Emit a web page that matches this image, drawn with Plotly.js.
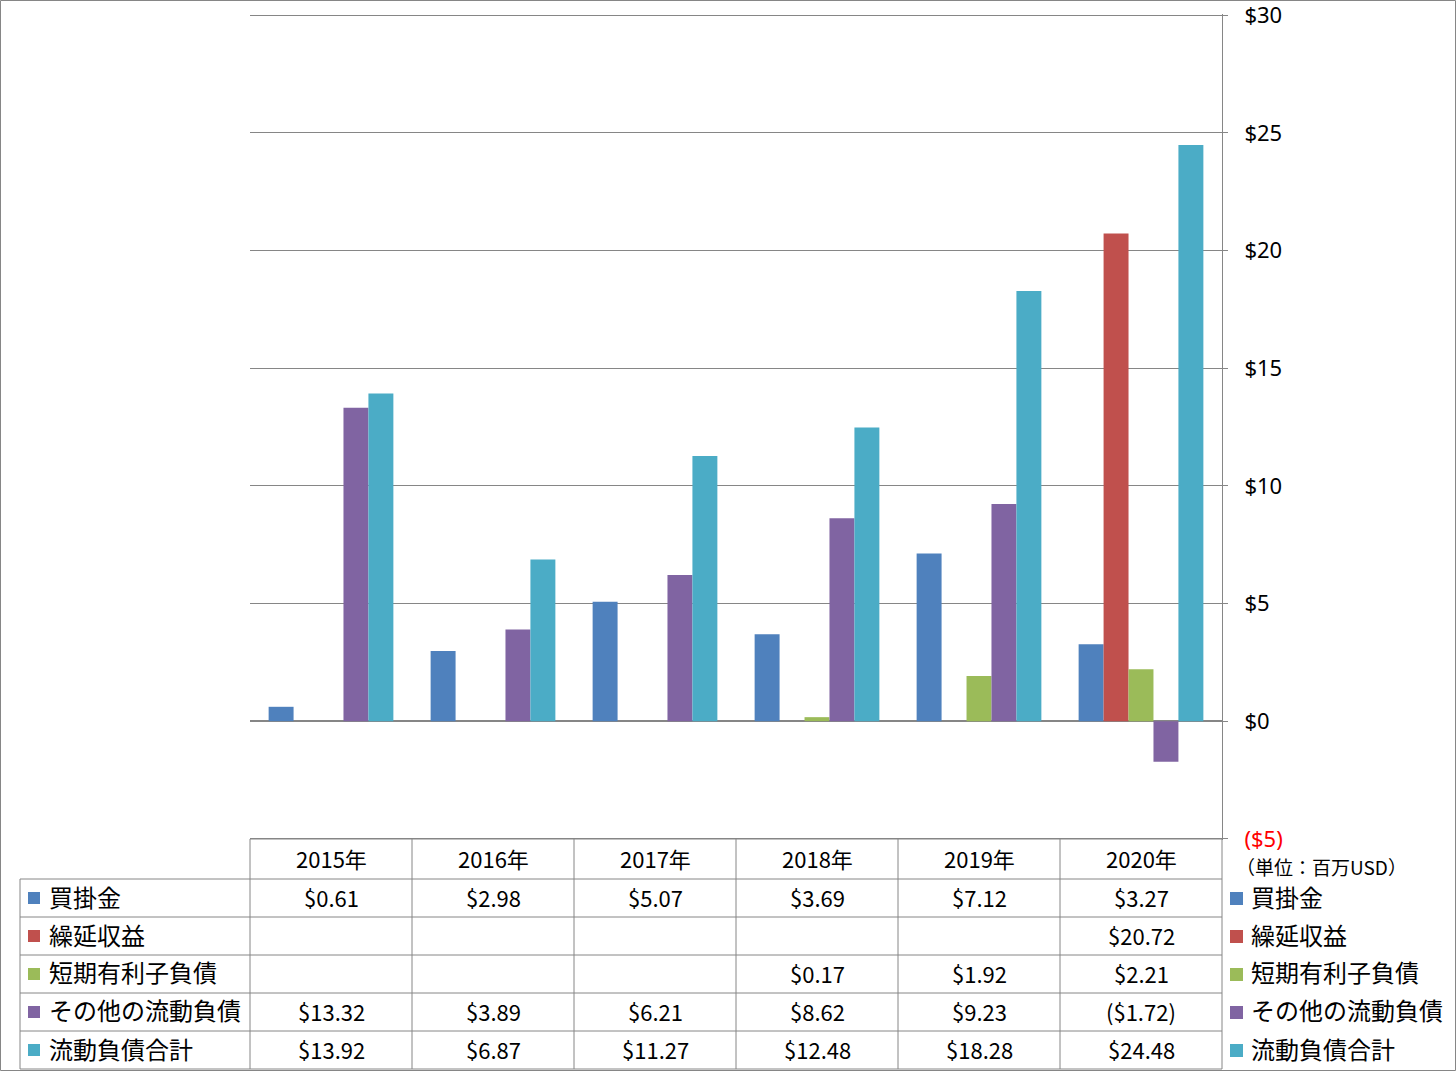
<!DOCTYPE html>
<html>
<head>
<meta charset="utf-8">
<script src="https://cdn.plot.ly/plotly-3.0.1.min.js"></script>
<style>
  body { margin: 0; background: #fff; }
  #draw { width: 1456px; height: 1071px; }
</style>
</head>
<body>
<div id="draw"></div>
<script>
const years = ['2015年', '2016年', '2017年', '2018年', '2019年', '2020年']
const seriesNames = ['買掛金', '繰延収益', '短期有利子負債', 'その他の流動負債', '流動負債合計']
const seriesColors = ['#4F81BD', '#C0504D', '#9BBB59', '#8064A2', '#4BACC6']

const payables = [0.61, 2.98, 5.07, 3.69, 7.12, 3.27]
const deferredRevenue = [null, null, null, null, null, 20.72]
const shortTermDebt = [null, null, null, 0.17, 1.92, 2.21]
const otherLiabilities = [13.32, 3.89, 6.21, 8.62, 9.23, -1.72]
const totalLiabilities = [13.92, 6.87, 11.27, 12.48, 18.28, 24.48]

const tickVals = [-5, 0, 5, 10, 15, 20, 25, 30]
const unitLabel = '（単位：百万USD）'

const seriesValues = [payables, deferredRevenue, shortTermDebt, otherLiabilities, totalLiabilities]

// plot area in pixels (slightly padded so the $30 / ($5) lines stay inside)
const L = 250, R = 1222, T = 14, B = 840
const W = 1456, H = 1071
const px = (x) => (x - L) / (R - L)
const py = (y) => (B - y) / (B - T)

const fmt = (v) => {
  if (v === null || v === undefined) return ''
  return v < 0 ? '($' + Math.abs(v).toFixed(2) + ')' : '$' + v.toFixed(2)
}
const fmtTick = (v) => v < 0 ? '<span style="color:#FF0000">($' + Math.abs(v) + ')</span>' : '$' + v

const FONT = 'Noto Sans CJK JP, Noto Sans, sans-serif'
const LATIN = 'Noto Sans, sans-serif'
const LINE = '#868686'

const main = () => {
  const traces = seriesValues.map((vals, i) => ({
    type: 'bar',
    name: seriesNames[i],
    x: years,
    y: vals,
    marker: {color: seriesColors[i]},
    hoverinfo: 'skip',
  }))

  const shapes = []
  const annotations = []
  const hline = (x0, x1, y) => shapes.push({type: 'line', xref: 'paper', yref: 'paper',
    x0: px(x0), x1: px(x1), y0: py(y), y1: py(y), line: {color: LINE, width: 1}})
  const vline = (x, y0, y1) => shapes.push({type: 'line', xref: 'paper', yref: 'paper',
    x0: px(x), x1: px(x), y0: py(y0), y1: py(y1), line: {color: LINE, width: 1}})
  const label = (x, y, text, size, anchor) => annotations.push({xref: 'paper', yref: 'paper',
    x: px(x), y: py(y), text: text, showarrow: false, xanchor: anchor, yanchor: 'middle',
    font: {family: FONT, size: size, color: '#000'}})

  // outer chart border
  shapes.push({type: 'rect', xref: 'paper', yref: 'paper',
    x0: px(0.5), x1: px(W - 0.5), y0: py(0.5), y1: py(H - 0.5), line: {color: LINE, width: 1}})

  // table grid
  const colW = (R - L) / years.length
  const rowTops = [879, 917, 955, 993, 1031, 1069]
  hline(L, R, 839)
  rowTops.forEach(y => hline(20, R, y))
  vline(20, 879, 1069)
  for (let c = 0; c <= years.length; c++) vline(L + c * colW, 839, 1069)

  // header row
  years.forEach((yr, c) => label(L + (c + 0.5) * colW, 858, yr, 22, 'center'))

  // rows
  seriesNames.forEach((name, r) => {
    const yc = (rowTops[r] + rowTops[r + 1]) / 2
    // left label + key
    shapes.push({type: 'rect', xref: 'paper', yref: 'paper',
      x0: px(28), x1: px(40), y0: py(yc - 6), y1: py(yc + 6),
      fillcolor: seriesColors[r], line: {width: 0}})
    label(47, yc - 2, name, 24, 'left')
    // right legend
    shapes.push({type: 'rect', xref: 'paper', yref: 'paper',
      x0: px(1230), x1: px(1243), y0: py(yc - 6), y1: py(yc + 7),
      fillcolor: seriesColors[r], line: {width: 0}})
    label(1249, yc - 2, name, 24, 'left')
    // values
    seriesValues[r].forEach((v, c) => label(L + (c + 0.5) * colW, yc - 1, fmt(v), 22, 'center'))
  })

  label(1234, 866, unitLabel, 19, 'left')

  const layout = {
    width: W,
    height: H,
    margin: {l: L, r: W - R, t: T, b: H - B},
    paper_bgcolor: '#fff',
    plot_bgcolor: '#fff',
    showlegend: false,
    barmode: 'group',
    bargap: 0.23,
    bargroupgap: 0,
    font: {family: FONT, size: 20, color: '#000'},
    xaxis: {
      type: 'category',
      showticklabels: false,
      showgrid: false,
      zeroline: false,
      showline: false,
      ticks: '',
      fixedrange: true,
    },
    yaxis: {
      side: 'right',
      range: [-5.05, 30.05],
      tickvals: tickVals,
      ticktext: tickVals.map(fmtTick),
      ticklabeloverflow: 'allow',
      showgrid: true,
      gridcolor: LINE,
      gridwidth: 1,
      zeroline: true,
      zerolinecolor: LINE,
      zerolinewidth: 2,
      showline: true,
      linecolor: LINE,
      linewidth: 1,
      ticks: 'outside',
      ticklen: 5,
      tickcolor: LINE,
      ticklabelstandoff: 12,
      tickfont: {family: LATIN, size: 22, color: '#000'},
      fixedrange: true,
    },
    shapes: shapes,
    annotations: annotations,
  }

  Plotly.newPlot('draw', traces, layout, {displayModeBar: false, staticPlot: true})
}

main()
</script>
</body>
</html>
